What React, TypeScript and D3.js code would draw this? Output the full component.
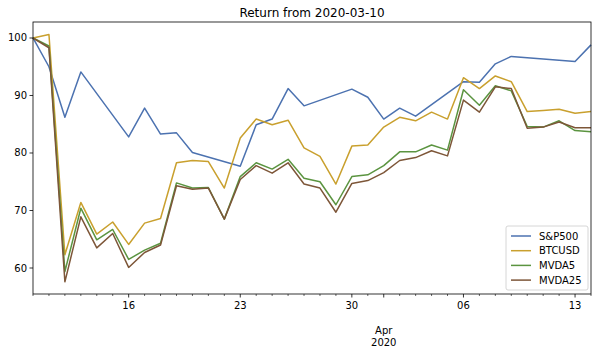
import * as d3 from 'd3';
import React, { useEffect } from 'react';

// daily index from 2020-03-10 to 2020-04-14; null = no trading that day
const startDate = '2020-03-10';
const dayCount = 36;

const sp500 = [100, 95.0, 86.2, 94.1, null, null, 82.8, 87.8, 83.3, 83.5, 80.1, null, null, 77.7, 84.9, 85.9, 91.2, 88.2, null, null, 91.1, 89.7, 85.9, 87.8, 86.4, null, null, 92.4, 92.3, 95.5, 96.8, null, null, null, 95.9, 98.8];
const btcusd = [100, 100.6, 62.3, 71.4, 65.9, 68.0, 64.1, 67.8, 68.6, 78.3, 78.7, 78.5, 73.9, 82.6, 85.9, 84.9, 85.7, 80.9, 79.4, 74.6, 81.2, 81.4, 84.5, 86.2, 85.6, 87.1, 85.9, 93.1, 91.2, 93.4, 92.4, 87.2, 87.4, 87.6, 86.9, 87.2];
const mvda5 = [100, 98.6, 59.4, 70.4, 64.9, 66.7, 61.5, 63.1, 64.3, 74.8, 73.9, 74.0, 68.5, 75.9, 78.3, 77.2, 78.9, 75.6, 75.0, 71.0, 75.9, 76.2, 77.8, 80.2, 80.2, 81.4, 80.5, 91.0, 88.3, 91.7, 90.8, 84.6, 84.5, 85.6, 83.9, 83.7];
const mvda25 = [100, 98.3, 57.6, 68.9, 63.5, 66.0, 60.1, 62.7, 64.0, 74.3, 73.7, 73.9, 68.5, 75.4, 77.8, 76.5, 78.3, 74.6, 73.9, 69.7, 74.7, 75.2, 76.6, 78.7, 79.2, 80.4, 79.5, 89.2, 87.1, 91.5, 91.2, 84.3, 84.5, 85.4, 84.4, 84.4];

const seriesNames = ['S&P500', 'BTCUSD', 'MVDA5', 'MVDA25'];
const seriesValues = [sp500, btcusd, mvda5, mvda25];
const seriesColors = ['#4c72b0', '#c9a02e', '#5b9440', '#7d5638'];

const yTicks = [60, 70, 80, 90, 100];
const majorTickDays = ['2020-03-16', '2020-03-23', '2020-03-30', '2020-04-01', '2020-04-06', '2020-04-13'];

export default function App() {
  const ref = React.useRef<HTMLDivElement>(null);

  useEffect(() => {
    if (!ref.current) return;
    document.body.style.margin = '0';
    ref.current.innerHTML = '';

    const W = 598;
    const H = 353;
    const margin = { top: 22, right: 7, bottom: 59, left: 33 };
    const width = W - margin.left - margin.right;
    const height = H - margin.top - margin.bottom;

    const parse = d3.timeParse('%Y-%m-%d');
    const start = parse(startDate) as Date;
    const days = d3.range(dayCount).map(i => d3.timeDay.offset(start, i));

    const svg = d3
      .select(ref.current)
      .append('svg')
      .attr('width', W)
      .attr('height', H)
      .style('display', 'block')
      .style('font-family', 'DejaVu Sans, sans-serif');

    const g = svg.append('g').attr('transform', `translate(${margin.left},${margin.top})`);

    const x = d3.scaleTime().domain([days[0], days[days.length - 1]]).range([0, width]);
    const y = d3.scaleLinear().domain([55.48, 102.78]).range([height, 0]);

    // lines (gaps on non-trading days are bridged)
    seriesValues.forEach((vals, si) => {
      const pts = vals
        .map((v, i) => ({ date: days[i], value: v }))
        .filter(p => p.value !== null) as { date: Date; value: number }[];
      g.append('path')
        .datum(pts)
        .attr('fill', 'none')
        .attr('stroke', seriesColors[si])
        .attr('stroke-width', 1.5)
        .attr('stroke-linejoin', 'round')
        .attr('d', d3.line<{ date: Date; value: number }>().x(d => x(d.date)).y(d => y(d.value)));
    });

    // frame
    g.append('rect')
      .attr('width', width)
      .attr('height', height)
      .attr('fill', 'none')
      .attr('stroke', '#000')
      .attr('stroke-width', 0.8);

    // x minor ticks (daily)
    const majors = majorTickDays.map(s => +(parse(s) as Date));
    g.append('g')
      .selectAll('line')
      .data(days.filter(d => !majors.includes(+d)))
      .enter()
      .append('line')
      .attr('x1', d => x(d))
      .attr('x2', d => x(d))
      .attr('y1', height)
      .attr('y2', height + 2)
      .attr('stroke', '#000')
      .attr('stroke-width', 0.6);

    // x major ticks + labels
    const fmtDay = d3.timeFormat('%d');
    const majorG = g.append('g');
    majorTickDays.forEach(s => {
      const d = parse(s) as Date;
      const px = x(d);
      majorG.append('line')
        .attr('x1', px).attr('x2', px)
        .attr('y1', height).attr('y2', height + 3.5)
        .attr('stroke', '#000').attr('stroke-width', 0.8);
      if (d.getDate() === 1) {
        majorG.append('text')
          .attr('x', px).attr('y', height + 40)
          .attr('text-anchor', 'middle').attr('font-size', 10)
          .text(d3.timeFormat('%b')(d));
        majorG.append('text')
          .attr('x', px).attr('y', height + 52)
          .attr('text-anchor', 'middle').attr('font-size', 10)
          .text(d3.timeFormat('%Y')(d));
      } else {
        majorG.append('text')
          .attr('x', px).attr('y', height + 15)
          .attr('text-anchor', 'middle').attr('font-size', 10)
          .text(fmtDay(d));
      }
    });

    // y ticks
    const yG = g.append('g');
    yTicks.forEach(t => {
      yG.append('line')
        .attr('x1', -3.5).attr('x2', 0)
        .attr('y1', y(t)).attr('y2', y(t))
        .attr('stroke', '#000').attr('stroke-width', 0.8);
      yG.append('text')
        .attr('x', -6).attr('y', y(t)).attr('dy', '0.35em')
        .attr('text-anchor', 'end').attr('font-size', 10)
        .text(t);
    });

    // title
    svg.append('text')
      .attr('x', margin.left + width / 2)
      .attr('y', 17)
      .attr('text-anchor', 'middle')
      .attr('font-size', 12)
      .text('Return from 2020-03-10');

    // legend
    const lg = g.append('g').attr('transform', `translate(${width - 85},${height - 68})`);
    lg.append('rect')
      .attr('width', 82)
      .attr('height', 64)
      .attr('rx', 2)
      .attr('fill', '#fff')
      .attr('fill-opacity', 0.8)
      .attr('stroke', '#ccc')
      .attr('stroke-width', 0.8);
    seriesNames.forEach((name, i) => {
      const ly = 10 + i * 14.7;
      lg.append('line')
        .attr('x1', 5).attr('x2', 25)
        .attr('y1', ly).attr('y2', ly)
        .attr('stroke', seriesColors[i]).attr('stroke-width', 1.5);
      lg.append('text')
        .attr('x', 33).attr('y', ly).attr('dy', '0.35em')
        .attr('font-size', 10)
        .text(name);
    });
  }, []);

  return <div ref={ref}></div>;
}
